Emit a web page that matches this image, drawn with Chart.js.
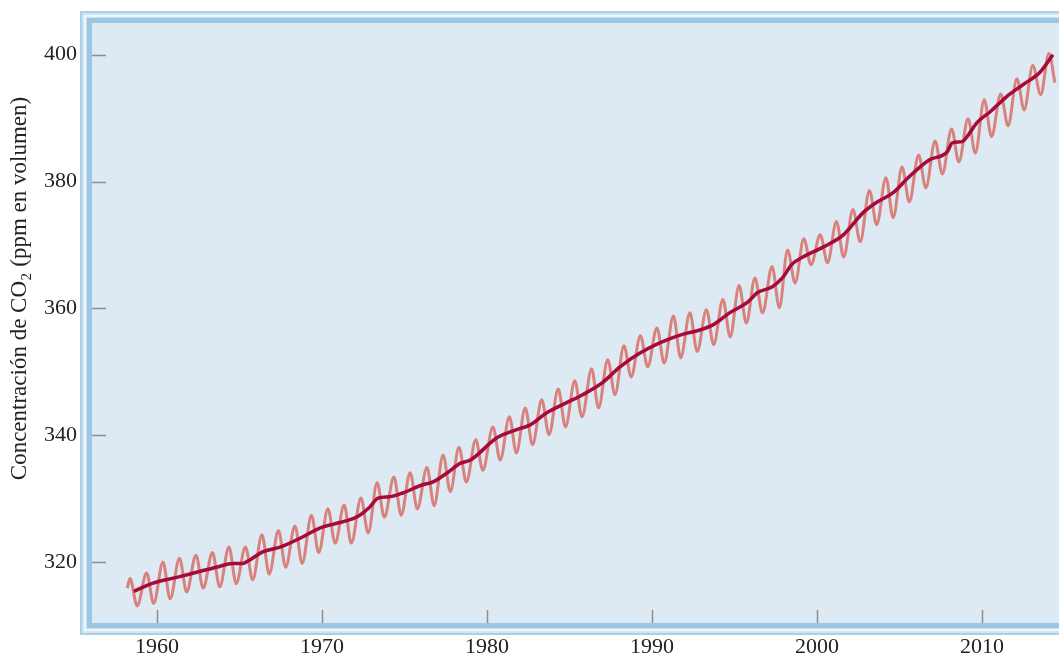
<!DOCTYPE html>
<html><head><meta charset="utf-8">
<script src="https://cdn.jsdelivr.net/npm/chart.js@4.4.1/dist/chart.umd.min.js"></script>
<style>html,body{margin:0;padding:0;background:#fff;}canvas{display:block}</style>
</head><body>
<canvas id="c" width="1059" height="654"></canvas>
<script>
// ---- data ----
const xTickValues = [1960, 1970, 1980, 1990, 2000, 2010];
const yTickValues = [320, 340, 360, 380, 400];

// monthly-record curve: start, seasonal maxima and minima, end
const seasonalYears = [
  1958.20, 1958.36, 1958.80, 1959.37, 1959.80, 1960.36, 1960.80, 1961.36, 1961.80,
  1962.36, 1962.80, 1963.36, 1963.80, 1964.36, 1964.80, 1965.36, 1965.80, 1966.36, 1966.80,
  1967.36, 1967.80, 1968.36, 1968.80, 1969.36, 1969.80, 1970.36, 1970.80, 1971.34, 1971.78,
  1972.36, 1972.80, 1973.34, 1973.78, 1974.36, 1974.80, 1975.34, 1975.78, 1976.36, 1976.80,
  1977.34, 1977.78, 1978.30, 1978.75, 1979.32, 1979.75, 1980.36, 1980.80, 1981.36, 1981.78,
  1982.32, 1982.76, 1983.32, 1983.76, 1984.32, 1984.76, 1985.32, 1985.76, 1986.34, 1986.76,
  1987.32, 1987.76, 1988.30, 1988.74, 1989.30, 1989.74, 1990.30, 1990.74, 1991.30, 1991.74,
  1992.30, 1992.74, 1993.30, 1993.74, 1994.30, 1994.74, 1995.28, 1995.72, 1996.24, 1996.70,
  1997.28, 1997.72, 1998.22, 1998.68, 1999.20, 1999.64, 2000.20, 2000.64, 2001.18, 2001.62,
  2002.18, 2002.62, 2003.18, 2003.62, 2004.18, 2004.62, 2005.16, 2005.60, 2006.16, 2006.60,
  2007.16, 2007.60, 2008.16, 2008.60, 2009.16, 2009.60, 2010.14, 2010.58, 2011.14, 2011.58,
  2012.12, 2012.56, 2013.08, 2013.56, 2014.06, 2014.42
];
const seasonalPPM = [
  315.9, 317.4, 313.1, 318.3, 313.5, 320.0, 314.2, 320.6, 315.3,
  321.1, 315.9, 321.5, 316.1, 322.4, 316.6, 322.4, 317.2, 324.3, 318.1,
  325.0, 319.2, 325.7, 319.8, 327.4, 321.5, 328.4, 323.0, 329.0, 323.0,
  330.1, 324.6, 332.5, 327.1, 333.4, 327.4, 334.1, 328.4, 334.9, 328.9,
  336.9, 331.1, 338.1, 332.6, 339.3, 334.5, 341.3, 336.1, 342.9, 337.2,
  344.3, 338.5, 345.6, 340.1, 347.3, 341.3, 348.6, 342.9, 350.5, 344.3,
  351.9, 346.4, 354.1, 349.2, 355.7, 350.8, 356.9, 351.4, 358.8, 352.2,
  359.3, 353.2, 359.8, 354.3, 361.4, 355.5, 363.6, 357.7, 364.8, 359.3,
  366.6, 360.1, 369.2, 364.0, 371.0, 366.9, 371.6, 367.2, 373.7, 368.1,
  375.6, 370.5, 378.6, 373.2, 380.6, 374.3, 382.3, 376.8, 384.2, 379.0,
  386.4, 381.2, 388.3, 383.1, 389.9, 384.5, 392.9, 387.1, 393.8, 388.8,
  396.2, 391.3, 398.3, 393.7, 400.2, 395.6
];

// smoothed trend curve
const trendYears = [
  1958.6, 1959.76, 1961.2, 1962.4, 1963.6, 1964.6, 1965.2, 1965.6, 1966.4, 1967.5,
  1968.7, 1969.9, 1970.7, 1972.1, 1972.9, 1973.4, 1974.1, 1974.9, 1976.1, 1976.7,
  1977.6, 1978.4, 1979.0, 1980.6, 1981.8, 1982.6, 1983.6, 1984.8, 1985.8, 1987.0,
  1988.06, 1989.3, 1990.5, 1991.7, 1992.9, 1993.7, 1994.7, 1995.8, 1996.4, 1997.3,
  1997.9, 1998.5, 1999.15, 2000.4, 2001.6, 2002.8, 2003.6, 2004.6, 2005.6, 2006.8,
  2007.9, 2008.2, 2008.8, 2009.1, 2009.7, 2010.5, 2011.5, 2012.5, 2013.5, 2014.3
];
const trendPPM = [
  315.4, 316.7, 317.6, 318.4, 319.2, 319.8, 319.8, 320.3, 321.6, 322.4,
  323.8, 325.4, 326.0, 327.1, 328.7, 330.1, 330.3, 330.9, 332.2, 332.6,
  334.1, 335.6, 336.1, 339.6, 340.9, 341.6, 343.5, 345.1, 346.4, 348.3,
  350.8, 353.0, 354.6, 355.8, 356.6, 357.4, 359.3, 361.0, 362.5, 363.4,
  364.8, 367.0, 368.1, 369.7, 371.6, 375.1, 376.7, 378.2, 380.8, 383.4,
  384.7, 386.1, 386.3, 387.1, 389.3, 391.0, 393.4, 395.3, 397.2, 400.0
];

const yTitleMain = 'Concentración de CO';
const yTitleSub = '2';
const yTitleEnd = ' (ppm en volumen)';

// ---- styling ----
const FONT = '"Liberation Serif", "Times New Roman", serif';
const frameBands = ['#abd0e6', '#cfe5f2', '#eef6fb', '#c6e0ef', '#9bc7e2'];
const bandWidths = [2, 2, 2, 1, 5];
const plotBg = '#dde9f3';

const framePlugin = {
  id: 'frame',
  beforeDraw(chart) {
    const {ctx, chartArea: a} = chart;
    const total = bandWidths.reduce((s, v) => s + v, 0);
    let off = 0;
    ctx.save();
    for (let i = 0; i < frameBands.length; i++) {
      ctx.fillStyle = frameBands[i];
      const x0 = a.left - total + off, y0 = a.top - total + off;
      const y1 = a.bottom + total - off;
      ctx.fillRect(x0, y0, chart.width + 50 - x0, y1 - y0);
      off += bandWidths[i];
    }
    ctx.fillStyle = plotBg;
    ctx.fillRect(a.left, a.top, chart.width + 50 - a.left, a.bottom - a.top);
    ctx.restore();
  },
  beforeDatasetsDraw(chart) {
    const {ctx, chartArea: a, scales} = chart;
    ctx.save();
    ctx.strokeStyle = '#8a8f94';
    ctx.lineWidth = 1.5;
    ctx.beginPath();
    scales.y.ticks.forEach(t => {
      const py = Math.round(scales.y.getPixelForValue(t.value)) + 0.5;
      ctx.moveTo(a.left, py); ctx.lineTo(a.left + 14, py);
    });
    scales.x.ticks.forEach(t => {
      const px = Math.round(scales.x.getPixelForValue(t.value)) + 0.5;
      ctx.moveTo(px, a.bottom); ctx.lineTo(px, a.bottom - 13);
    });
    ctx.stroke();
    ctx.restore();
  },
  afterDraw(chart) {
    const ctx = chart.ctx;
    ctx.save();
    ctx.translate(26, 289);
    ctx.rotate(-Math.PI / 2);
    ctx.fillStyle = '#222';
    ctx.textAlign = 'left';
    ctx.textBaseline = 'alphabetic';
    const f = '23px ' + FONT, fs = '15px ' + FONT;
    ctx.font = f;
    const w1 = ctx.measureText(yTitleMain).width, w3 = ctx.measureText(yTitleEnd).width;
    ctx.font = fs;
    const w2 = ctx.measureText(yTitleSub).width;
    let x = -(w1 + w2 + w3) / 2;
    ctx.font = f; ctx.fillText(yTitleMain, x, 0); x += w1;
    ctx.font = fs; ctx.fillText(yTitleSub, x + 0.5, 5); x += w2 + 1;
    ctx.font = f; ctx.fillText(yTitleEnd, x, 0);
    ctx.restore();
  }
};

const toXY = (xs, ys) => xs.map((v, i) => ({x: v, y: ys[i]}));

new Chart(document.getElementById('c'), {
  type: 'line',
  data: {
    datasets: [
      {
        label: 'Trend',
        data: toXY(trendYears, trendPPM),
        borderColor: '#a60a38',
        borderWidth: 3.5,
        pointRadius: 0,
        cubicInterpolationMode: 'monotone',
        fill: false,
        order: 1
      },
      {
        label: 'Monthly',
        data: toXY(seasonalYears, seasonalPPM),
        borderColor: '#d9817d',
        borderWidth: 3,
        pointRadius: 0,
        cubicInterpolationMode: 'monotone',
        fill: false,
        order: 2
      }
    ]
  },
  options: {
    responsive: false,
    animation: false,
    devicePixelRatio: 1,
    layout: {padding: {top: 23, left: 0, right: 0, bottom: 0}},
    plugins: {legend: {display: false}, tooltip: {enabled: false}},
    scales: {
      x: {
        type: 'linear',
        min: 1956.06,
        max: 2014.67,
        afterBuildTicks: s => { s.ticks = xTickValues.map(v => ({value: v})); },
        afterFit: s => { s.height = 31; s.paddingLeft = 0; s.paddingRight = 0; },
        grid: {display: false, drawTicks: false},
        border: {display: false},
        ticks: {
          padding: 11,
          color: '#222',
          font: {family: FONT, size: 22},
          maxRotation: 0,
          callback: v => String(v)
        }
      },
      y: {
        type: 'linear',
        min: 310.4,
        max: 405.0,
        afterBuildTicks: s => { s.ticks = yTickValues.map(v => ({value: v})); },
        afterFit: s => { s.width = 92; s.paddingTop = 0; s.paddingBottom = 0; },
        grid: {display: false, drawTicks: false},
        border: {display: false},
        ticks: {
          padding: 15,
          color: '#222',
          font: {family: FONT, size: 22},
          callback: v => String(v)
        }
      }
    }
  },
  plugins: [framePlugin]
});
</script>
</body></html>
